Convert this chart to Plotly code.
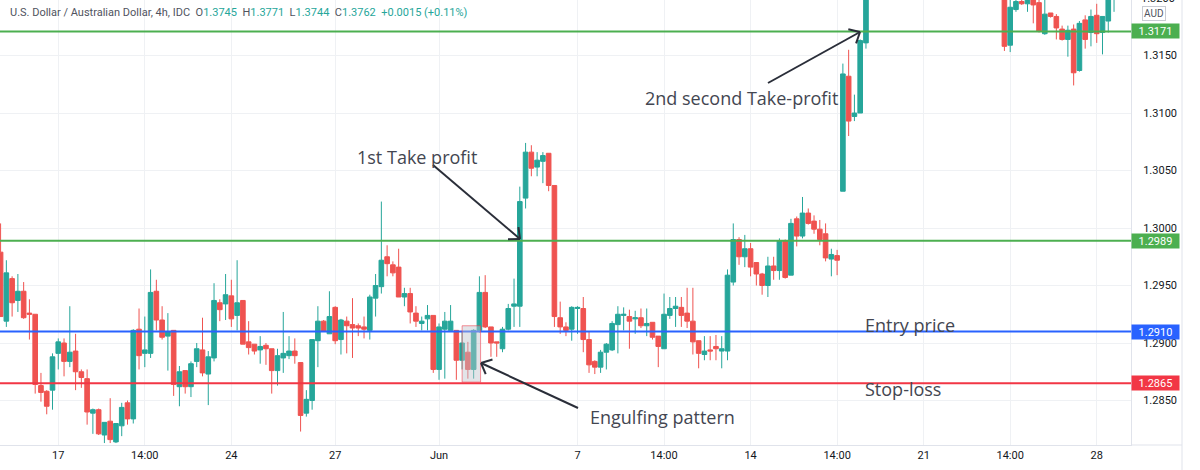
import math
import plotly.graph_objects as go

# ---------------- data (USD/AUD, 4h candles) ----------------
opens = [
    1.2979, 1.2919, 1.2956, 1.2937, 1.2945, 1.2926, 1.2925, 1.2863, 1.2858, 1.2859,
    1.2891, 1.2900, 1.2884, 1.2893, 1.2875, 1.2869, 1.2839, 1.2842, 1.2820, 1.2832,
    1.2814, 1.2828, 1.2848, 1.2834, 1.2912, 1.2891, 1.2891, 1.2945, 1.2920, 1.2906,
    1.2911, 1.2862, 1.2876, 1.2862, 1.2884, 1.2894, 1.2873, 1.2887, 1.2935, 1.2934,
    1.2941, 1.2924, 1.2937, 1.2901, 1.2899, 1.2894, 1.2898, 1.2895, 1.2876, 1.2887,
    1.2889, 1.2893, 1.2883, 1.2839, 1.2850, 1.2902, 1.2919, 1.2908, 1.2931, 1.2903,
    1.2919, 1.2916, 1.2915, 1.2914, 1.2911, 1.2939, 1.2949, 1.2975, 1.2968, 1.2966,
    1.2940, 1.2943, 1.2926, 1.2917, 1.2921, 1.2924, 1.2877, 1.2912, 1.2911, 1.2911,
    1.2885, 1.2892, 1.2877, 1.2911, 1.2944, 1.2914, 1.2901, 1.2895, 1.2912, 1.2932,
    1.2932, 1.3026, 1.3066, 1.3053, 1.3058, 1.3065, 1.3037, 1.2922, 1.2914, 1.2912,
    1.2930, 1.2930, 1.2903, 1.2884, 1.2879, 1.2892, 1.2894, 1.2916, 1.2924, 1.2923,
    1.2921, 1.2922, 1.2915, 1.2918, 1.2906, 1.2895, 1.2924, 1.2930, 1.2931, 1.2926,
    1.2919, 1.2902, 1.2890, 1.2894, 1.2897, 1.2893, 1.2893, 1.2953, 1.2990, 1.2975,
    1.2982, 1.2970, 1.2960, 1.2950, 1.2967, 1.2963, 1.2989, 1.2959, 1.3008, 1.2993,
    1.3013, 1.3006, 1.2999, 1.2995, 1.2973, 1.2976, 1.3032, 1.3132, 1.3097, 1.3100, 1.3161,
    1.3222, 1.3159, 1.3190, 1.3197, 1.3195, 1.3201, 1.3196, 1.3169, 1.3187, 1.3184,
    1.3173, 1.3164, 1.3173, 1.3137, 1.3181, 1.3170, 1.3185, 1.3170, 1.3180, 1.3205,
]
highs = [
    1.3004, 1.2972, 1.2958, 1.2960, 1.2953, 1.2938, 1.2925, 1.2874, 1.2859, 1.2891,
    1.2904, 1.2904, 1.2932, 1.2908, 1.2877, 1.2877, 1.2843, 1.2843, 1.2831, 1.2852,
    1.2830, 1.2848, 1.2850, 1.2912, 1.2930, 1.2923, 1.2964, 1.2955, 1.2932, 1.2926,
    1.2911, 1.2880, 1.2876, 1.2884, 1.2900, 1.2922, 1.2893, 1.2952, 1.2938, 1.2960,
    1.2955, 1.2972, 1.2937, 1.2919, 1.2899, 1.2906, 1.2900, 1.2895, 1.2895, 1.2927,
    1.2906, 1.2904, 1.2883, 1.2859, 1.2903, 1.2932, 1.2920, 1.2945, 1.2932, 1.2921,
    1.2923, 1.2939, 1.2917, 1.2923, 1.2942, 1.2960, 1.3023, 1.2985, 1.2971, 1.2982,
    1.2948, 1.2948, 1.2932, 1.2923, 1.2933, 1.2924, 1.2917, 1.2927, 1.2933, 1.2911,
    1.2910, 1.2901, 1.2912, 1.2958, 1.2959, 1.2914, 1.2901, 1.2914, 1.2934, 1.2956,
    1.3036, 1.3074, 1.3072, 1.3066, 1.3066, 1.3065, 1.3037, 1.2936, 1.2918, 1.2932,
    1.2932, 1.2940, 1.2910, 1.2885, 1.2894, 1.2900, 1.2919, 1.2932, 1.2931, 1.2929,
    1.2928, 1.2930, 1.2930, 1.2918, 1.2906, 1.2943, 1.2940, 1.2940, 1.2940, 1.2948,
    1.2948, 1.2902, 1.2906, 1.2906, 1.2907, 1.2906, 1.2964, 1.3004, 1.2992, 1.2994,
    1.2987, 1.2970, 1.2961, 1.2975, 1.2975, 1.2991, 1.2990, 1.3008, 1.3010, 1.3027,
    1.3017, 1.3011, 1.3007, 1.3004, 1.2982, 1.2981, 1.3143, 1.3155, 1.3116, 1.3164, 1.3230,
    1.3230, 1.3205, 1.3203, 1.3202, 1.3208, 1.3206, 1.3203, 1.3200, 1.3187, 1.3186,
    1.3176, 1.3176, 1.3177, 1.3180, 1.3185, 1.3190, 1.3195, 1.3184, 1.3215, 1.3230,
]
lows = [
    1.2923, 1.2914, 1.2923, 1.2927, 1.2921, 1.2903, 1.2856, 1.2849, 1.2838, 1.2842,
    1.2877, 1.2871, 1.2879, 1.2859, 1.2861, 1.2829, 1.2821, 1.2820, 1.2813, 1.2813,
    1.2813, 1.2819, 1.2829, 1.2830, 1.2877, 1.2879, 1.2887, 1.2911, 1.2903, 1.2876,
    1.2854, 1.2845, 1.2856, 1.2853, 1.2879, 1.2871, 1.2846, 1.2884, 1.2919, 1.2920,
    1.2914, 1.2911, 1.2899, 1.2890, 1.2890, 1.2882, 1.2881, 1.2856, 1.2863, 1.2874,
    1.2886, 1.2882, 1.2823, 1.2836, 1.2842, 1.2879, 1.2910, 1.2908, 1.2899, 1.2890,
    1.2891, 1.2887, 1.2906, 1.2904, 1.2903, 1.2923, 1.2943, 1.2958, 1.2958, 1.2940,
    1.2932, 1.2917, 1.2914, 1.2911, 1.2911, 1.2874, 1.2868, 1.2869, 1.2911, 1.2868,
    1.2877, 1.2869, 1.2869, 1.2909, 1.2913, 1.2888, 1.2888, 1.2892, 1.2911, 1.2914,
    1.2914, 1.3017, 1.3045, 1.3045, 1.3039, 1.3032, 1.2914, 1.2908, 1.2906, 1.2902,
    1.2908, 1.2892, 1.2874, 1.2873, 1.2874, 1.2877, 1.2893, 1.2891, 1.2911, 1.2895,
    1.2908, 1.2913, 1.2906, 1.2903, 1.2879, 1.2895, 1.2921, 1.2914, 1.2914, 1.2913,
    1.2890, 1.2878, 1.2885, 1.2885, 1.2885, 1.2878, 1.2885, 1.2950, 1.2968, 1.2966,
    1.2958, 1.2950, 1.2942, 1.2940, 1.2955, 1.2955, 1.2956, 1.2959, 1.2984, 1.2991,
    1.3003, 1.2995, 1.2985, 1.2971, 1.2958, 1.2959, 1.3032, 1.3080, 1.3093, 1.3100, 1.3156,
    1.3154, 1.3153, 1.3188, 1.3194, 1.3188, 1.3178, 1.3170, 1.3168, 1.3183, 1.3164,
    1.3163, 1.3149, 1.3124, 1.3136, 1.3156, 1.3158, 1.3161, 1.3151, 1.3170, 1.3188,
]
closes = [
    1.2923, 1.2961, 1.2935, 1.2945, 1.2922, 1.2925, 1.2864, 1.2857, 1.2845, 1.2888,
    1.2901, 1.2884, 1.2892, 1.2875, 1.2870, 1.2840, 1.2842, 1.2821, 1.2831, 1.2816,
    1.2830, 1.2844, 1.2834, 1.2911, 1.2889, 1.2894, 1.2944, 1.2920, 1.2905, 1.2910,
    1.2864, 1.2875, 1.2862, 1.2882, 1.2895, 1.2874, 1.2888, 1.2937, 1.2929, 1.2942,
    1.2921, 1.2935, 1.2899, 1.2896, 1.2893, 1.2897, 1.2895, 1.2876, 1.2889, 1.2891,
    1.2893, 1.2889, 1.2837, 1.2851, 1.2903, 1.2919, 1.2910, 1.2923, 1.2902, 1.2920,
    1.2915, 1.2913, 1.2913, 1.2912, 1.2940, 1.2950, 1.2972, 1.2969, 1.2961, 1.2940,
    1.2943, 1.2927, 1.2919, 1.2919, 1.2924, 1.2877, 1.2914, 1.2919, 1.2919, 1.2885,
    1.2900, 1.2877, 1.2911, 1.2944, 1.2914, 1.2900, 1.2900, 1.2912, 1.2930, 1.2934,
    1.3023, 1.3066, 1.3052, 1.3059, 1.3063, 1.3037, 1.2923, 1.2914, 1.2911, 1.2931,
    1.2931, 1.2903, 1.2881, 1.2879, 1.2892, 1.2899, 1.2917, 1.2925, 1.2925, 1.2919,
    1.2922, 1.2915, 1.2917, 1.2905, 1.2897, 1.2925, 1.2930, 1.2932, 1.2924, 1.2919,
    1.2901, 1.2891, 1.2893, 1.2893, 1.2895, 1.2895, 1.2959, 1.2990, 1.2975, 1.2982,
    1.2966, 1.2960, 1.2950, 1.2967, 1.2963, 1.2989, 1.2957, 1.3004, 1.2993, 1.3013,
    1.3004, 1.2999, 1.2990, 1.2974, 1.2977, 1.2972, 1.3134, 1.3093, 1.3100, 1.3163, 1.3220,
    1.3158, 1.3192, 1.3197, 1.3195, 1.3200, 1.3194, 1.3171, 1.3186, 1.3184, 1.3174,
    1.3164, 1.3172, 1.3135, 1.3178, 1.3164, 1.3184, 1.3169, 1.3184, 1.3205, 1.3225,
]
# bar sequence number (candles 151..173 run above the visible price range)
bar_index = list(range(0, 151)) + list(range(174, 194))

tick_index = [10, 25, 40, 58, 76, 100, 115, 130, 145, 160, 175, 190]
tick_text = ["17", "14:00", "24", "27", "Jun", "7", "14:00", "14", "14:00", "21", "14:00", "28"]

level_prices = [1.3171, 1.2989, 1.2910, 1.2865]
level_colors = ["#4caf50", "#4caf50", "#2962ff", "#f23645"]

header_title = "U.S. Dollar / Australian Dollar, 4h, IDC"
header_keys = ["O", "H", "L", "C"]
header_vals = ["1.3745", "1.3771", "1.3744", "1.3762"]
header_change = "+0.0015 (+0.11%)"

# ---------------- styling ----------------
UP = "#26a69a"
DOWN = "#ef5350"
ARROW = "#2a2e39"
TXT = "#434651"
GRID = "#eff1f4"
W, H = 1200, 470
MR, MB = 69, 25
PW, PH = W - MR, H - MB


def px(x):
    return x / PW


def py(y):
    return 1 - y / PH


fig = go.Figure()
fig.add_trace(go.Candlestick(
    x=bar_index, open=opens, high=highs, low=lows, close=closes,
    increasing=dict(line=dict(color=UP, width=1), fillcolor=UP),
    decreasing=dict(line=dict(color=DOWN, width=1), fillcolor=DOWN),
    whiskerwidth=0, hoverinfo="skip", showlegend=False,
))

fig.update_layout(
    width=W, height=H,
    margin=dict(l=0, r=MR, t=0, b=MB),
    paper_bgcolor="white", plot_bgcolor="white",
    showlegend=False, boxgap=0.2, boxgroupgap=0.0,
    xaxis=dict(
        range=[-0.1, 195.94], tickvals=tick_index, ticktext=tick_text,
        showgrid=True, gridcolor=GRID, gridwidth=1, zeroline=False,
        showline=True, linecolor="#e0e3eb", linewidth=1, ticks="",
        tickfont=dict(family="Roboto", size=11, color="#131722"),
        rangeslider=dict(visible=False),
    ),
    yaxis=dict(
        side="right", range=[1.28113, 1.31983], tick0=1.28, dtick=0.005,
        tickformat=".4f", showgrid=True, gridcolor=GRID, gridwidth=1,
        zeroline=False, showline=True, linecolor="#e0e3eb", linewidth=1,
        mirror=True, ticks="", ticklabelstandoff=9,
        tickfont=dict(family="Roboto", size=11, color="#131722"),
    ),
)

# horizontal levels
for p, c in zip(level_prices, level_colors):
    fig.add_shape(type="line", xref="paper", x0=0, x1=1, yref="y", y0=p, y1=p,
                  line=dict(color=c, width=2), layer="above")
    fig.add_annotation(xref="paper", x=1, xanchor="left", yref="y", y=p, yanchor="middle",
                       text=f"{p:.4f}", showarrow=False, bgcolor=c, borderpad=1,
                       width=45, height=12, align="center",
                       font=dict(family="Roboto", size=11, color="white"))

# engulfing highlight box
fig.add_shape(type="rect", xref="x", yref="y", x0=80.0, x1=83.2, y0=1.2866, y1=1.2915,
              line=dict(color="rgba(242,54,69,0.55)", width=1),
              fillcolor="rgba(190,196,204,0.45)", layer="above")


def add_arrow(tail, head, arm=12, ang=42):
    tx, ty = tail
    hx, hy = head
    dx, dy = tx - hx, ty - hy
    L = math.hypot(dx, dy)
    ux, uy = dx / L, dy / L
    fig.add_shape(type="line", xref="paper", yref="paper",
                  x0=px(tx), y0=py(ty), x1=px(hx), y1=py(hy),
                  line=dict(color=ARROW, width=2))
    for s in (1, -1):
        a = math.radians(ang * s)
        vx = ux * math.cos(a) - uy * math.sin(a)
        vy = ux * math.sin(a) + uy * math.cos(a)
        fig.add_shape(type="line", xref="paper", yref="paper",
                      x0=px(hx), y0=py(hy), x1=px(hx + arm * vx), y1=py(hy + arm * vy),
                      line=dict(color=ARROW, width=2))


add_arrow((433, 165), (520, 239))
add_arrow((768, 83), (860, 32))
add_arrow((578, 408), (481, 363))

# text labels
labels = [
    ("1st Take profit", 355, 157),
    ("2nd second Take-profit", 643, 98),
    ("Engulfing pattern", 588, 417),
    ("Entry price", 863, 325),
    ("Stop-loss", 863, 389),
]
for t, x, y in labels:
    fig.add_annotation(xref="paper", yref="paper", x=px(x), y=py(y), xanchor="left",
                       yanchor="middle", text=t, showarrow=False,
                       font=dict(family="Open Sans", size=18, color=TXT))

# header legend
parts = [f'<span style="color:#50535e">{header_title}</span>']
for k, v in zip(header_keys, header_vals):
    parts.append(f'<span style="color:#50535e">{k}</span><span style="color:{UP}">{v}</span>')
parts.append(f'<span style="color:{UP}">{header_change}</span>')
fig.add_annotation(xref="paper", yref="paper", x=px(8), y=py(12), xanchor="left",
                   yanchor="middle", text="&nbsp;&nbsp;".join(parts), showarrow=False,
                   font=dict(family="Roboto", size=11, color="#50535e"))

# partially visible top tick and currency badge on the price scale
fig.add_annotation(xref="paper", yref="paper", x=1, xshift=8, xanchor="left",
                   y=py(-2), yanchor="middle", text="1.3200", showarrow=False,
                   font=dict(family="Roboto", size=11, color="#131722"))
fig.add_annotation(xref="paper", yref="paper", x=1, xshift=11, xanchor="left",
                   y=py(13), yanchor="middle", text="AUD", showarrow=False,
                   bordercolor="#c8cbd2", borderwidth=1, borderpad=1,
                   font=dict(family="Roboto", size=10, color="#50535e"))

# outer frame of the price scale
fig.add_shape(type="line", xref="paper", yref="paper", x0=px(1182), x1=px(1182),
              y0=py(0), y1=py(H), line=dict(color="#e0e3eb", width=1))
fig.add_shape(type="line", xref="paper", yref="paper", x0=1, x1=px(1182),
              y0=0, y1=0, line=dict(color="#e0e3eb", width=1))

fig.write_html("out.html")
